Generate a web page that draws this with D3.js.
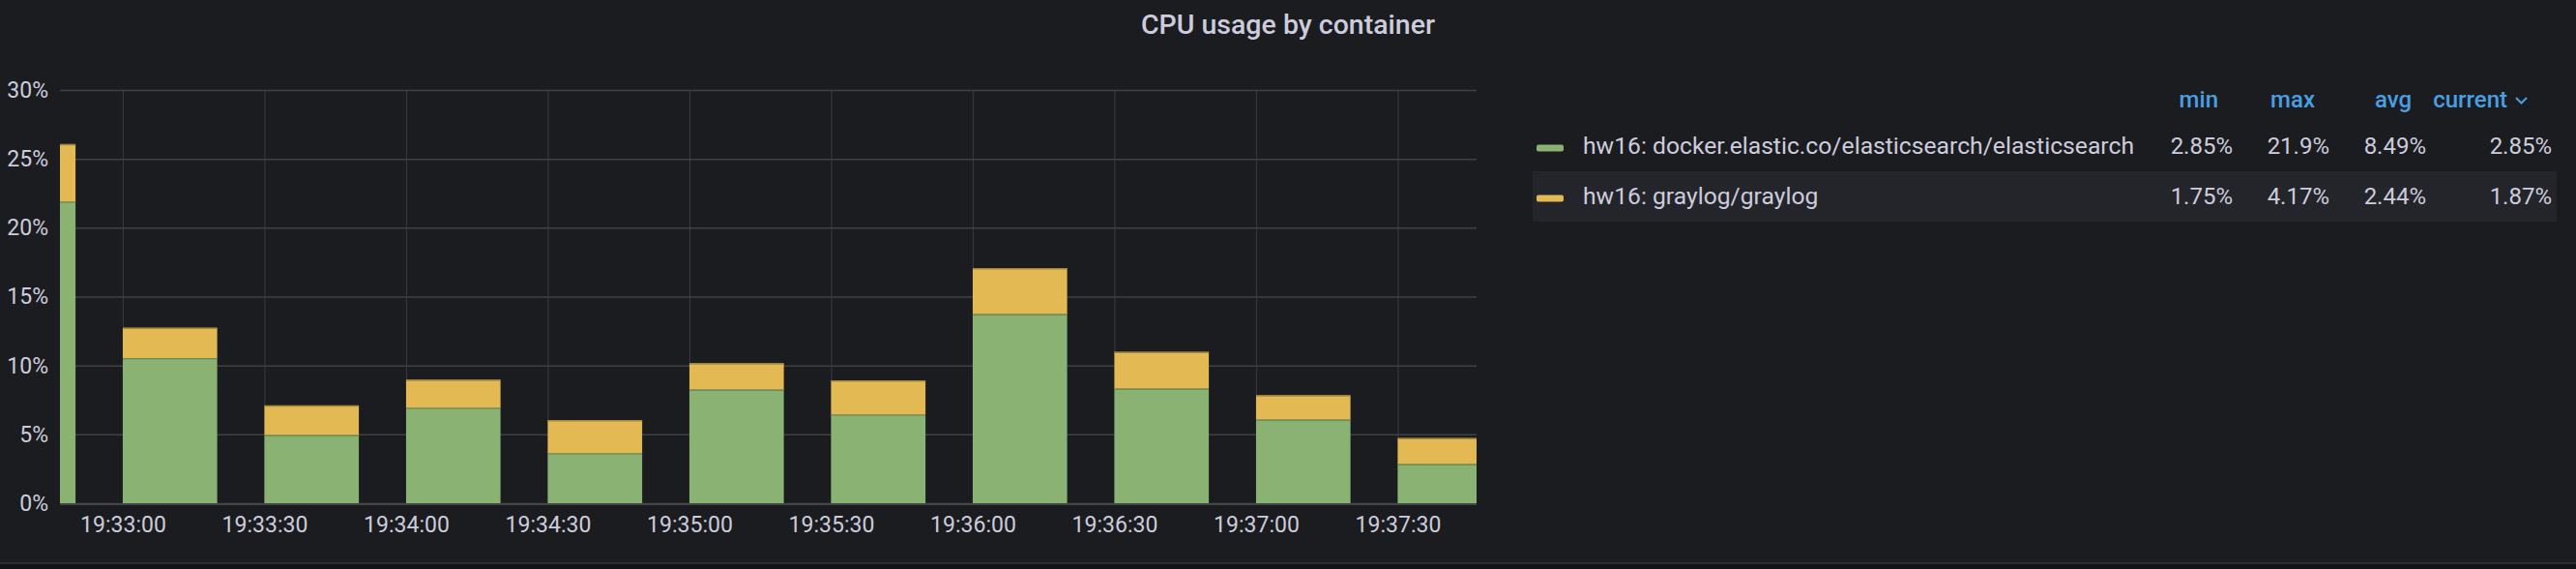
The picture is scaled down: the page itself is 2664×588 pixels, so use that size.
<!DOCTYPE html>
<html>
<head>
<meta charset="utf-8">
<script src="https://cdn.jsdelivr.net/npm/d3@7"></script>
<style>
  html, body { margin: 0; padding: 0; background: #1b1c20; }
  svg { display: block; font-family: Roboto, "Noto Sans", sans-serif; }
</style>
</head>
<body>
<svg id="chart" width="2664" height="588"></svg>
<script>
// ---------- data ----------
const chartTitle = "CPU usage by container";
const times = ["19:32:30","19:33:00","19:33:30","19:34:00","19:34:30","19:35:00","19:35:30","19:36:00","19:36:30","19:37:00","19:37:30"];
const seriesNames = ["hw16: docker.elastic.co/elasticsearch/elasticsearch", "hw16: graylog/graylog"];
const elasticValues = [21.9, 10.53, 4.96, 6.93, 3.63, 8.26, 6.44, 13.74, 8.33, 6.08, 2.85];
const graylogValues = [4.17, 2.20, 2.13, 2.03, 2.39, 1.90, 2.46, 3.32, 2.65, 1.75, 1.87];
const seriesColors = ["#89b273", "#e2b952"];
const yTicks = [0, 5, 10, 15, 20, 25, 30];
const xDomainTimes = ["19:32:46.7", "19:37:46.7"];
const legendColumns = ["min", "max", "avg", "current"];
const elasticStats = ["2.85%", "21.9%", "8.49%", "2.85%"];
const graylogStats = ["1.75%", "4.17%", "2.44%", "1.87%"];
const barSeconds = 20;

// ---------- helpers ----------
function parseT(s) {
  const [h, m, sec] = s.split(":");
  const secs = parseFloat(sec);
  const whole = Math.floor(secs);
  return new Date(2021, 0, 1, +h, +m, whole, Math.round((secs - whole) * 1000));
}

const W = 2664, H = 588;
const plot = { left: 62, right: 1527, top: 93, bottom: 520 };
const textColor = "#ccccdc";

const svg = d3.select("#chart");

// backgrounds
svg.append("rect").attr("x", 0).attr("y", 0).attr("width", W).attr("height", H).attr("fill", "#1b1c20");
svg.append("rect").attr("x", 0).attr("y", 583).attr("width", W).attr("height", 5).attr("fill", "#121317");
svg.append("line").attr("x1", 0).attr("x2", W).attr("y1", 582).attr("y2", 582).attr("stroke", "#2b2c31").attr("stroke-width", 2);

// title
svg.append("text").attr("x", W / 2).attr("y", 35).attr("text-anchor", "middle")
  .attr("fill", textColor).attr("font-size", 28.5).attr("font-weight", 500).text(chartTitle);

// scales
const x = d3.scaleTime().domain(xDomainTimes.map(parseT)).range([plot.left, plot.right]);
const y = d3.scaleLinear().domain([0, 30]).range([plot.bottom, plot.top]);

// grid: vertical
const xTickVals = x.ticks(d3.timeSecond.every(30));
const gx = svg.append("g").attr("transform", `translate(0,${plot.bottom})`)
  .call(d3.axisBottom(x).tickValues(xTickVals).tickFormat(d3.timeFormat("%H:%M:%S"))
        .tickSize(-(plot.bottom - plot.top)).tickPadding(14));
gx.select(".domain").remove();
gx.selectAll(".tick line").attr("stroke", "#3a3b40").attr("stroke-width", 1);
gx.selectAll(".tick text").attr("fill", textColor).attr("font-size", 23)
  .attr("font-family", "Roboto, sans-serif");

// grid: horizontal
const gy = svg.append("g").attr("transform", `translate(${plot.left},0)`)
  .call(d3.axisLeft(y).tickValues(yTicks).tickFormat(d => d + "%")
        .tickSize(-(plot.right - plot.left)).tickPadding(12));
gy.select(".domain").remove();
gy.selectAll(".tick line").attr("stroke", "#3f4045").attr("stroke-width", 1.5);
gy.selectAll(".tick text").attr("fill", textColor).attr("font-size", 23)
  .attr("font-family", "Roboto, sans-serif");

// clip
svg.append("clipPath").attr("id", "plotclip").append("rect")
  .attr("x", plot.left).attr("y", 0).attr("width", plot.right - plot.left).attr("height", plot.bottom);

// stacked bars
const rows = times.map((t, i) => ({ t: parseT(t), elastic: elasticValues[i], graylog: graylogValues[i] }));
const stack = d3.stack().keys(["elastic", "graylog"]);
const stacked = stack(rows);

const barsG = svg.append("g").attr("clip-path", "url(#plotclip)");
stacked.forEach((layer, li) => {
  const g = barsG.append("g");
  const col = seriesColors[li];
  layer.forEach(d => {
    const x0 = x(d.data.t);
    const x1 = x(d3.timeSecond.offset(d.data.t, barSeconds));
    g.append("rect")
      .attr("x", x0).attr("width", x1 - x0)
      .attr("y", y(d[1])).attr("height", y(d[0]) - y(d[1]))
      .attr("fill", col);
    g.append("line")
      .attr("x1", x0).attr("x2", x1).attr("y1", y(d[1]) + 0.5).attr("y2", y(d[1]) + 0.5)
      .attr("stroke", d3.color(col).darker(0.9)).attr("stroke-width", 1.5);
  });
});

// zero axis line
svg.append("line").attr("x1", plot.left).attr("x2", plot.right)
  .attr("y1", y(0) + 1).attr("y2", y(0) + 1).attr("stroke", "#45464b").attr("stroke-width", 2);

// ---------- legend ----------
const legend = svg.append("g");
const colRight = [2309, 2409, 2509, 2639];
const headRight = [2294, 2394, 2494, 2593];
const headerColor = "#4a9fe2";
legendColumns.forEach((c, i) => {
  legend.append("text").attr("x", headRight[i]).attr("y", 111).attr("text-anchor", "end")
    .attr("fill", headerColor).attr("font-size", 24).attr("font-weight", 500).text(c);
});
legend.append("path").attr("d", "M2602,101 L2607.5,106.5 L2613,101")
  .attr("fill", "none").attr("stroke", headerColor).attr("stroke-width", 2);

const rowY = [125, 177];
const rowH = 52;
legend.append("rect").attr("x", 1585).attr("y", rowY[1]).attr("width", 2644 - 1585).attr("height", rowH)
  .attr("fill", "#23252b");

const statsRows = [elasticStats, graylogStats];
// legend name widths scaled so the long name spans ~570px as in the reference
const nameFont = 24;
const longNameWidth = 570;
let nameScale = 1;
seriesNames.forEach((name, i) => {
  const cy = rowY[i] + 28;
  legend.append("rect").attr("x", 1589).attr("y", cy - 3.5).attr("width", 28).attr("height", 7)
    .attr("rx", 2).attr("fill", seriesColors[i]);
  const t = legend.append("text").attr("x", 1637).attr("y", rowY[i] + 34).attr("fill", textColor)
    .attr("font-size", nameFont).text(name);
  if (i === 0) {
    const len = t.node().getComputedTextLength();
    nameScale = longNameWidth / len;
  }
  const len = t.node().getComputedTextLength();
  t.attr("textLength", len * nameScale).attr("lengthAdjust", "spacingAndGlyphs");
  statsRows[i].forEach((v, j) => {
    legend.append("text").attr("x", colRight[j]).attr("y", rowY[i] + 34).attr("text-anchor", "end")
      .attr("fill", textColor).attr("font-size", 24).text(v);
  });
});
</script>
</body>
</html>
